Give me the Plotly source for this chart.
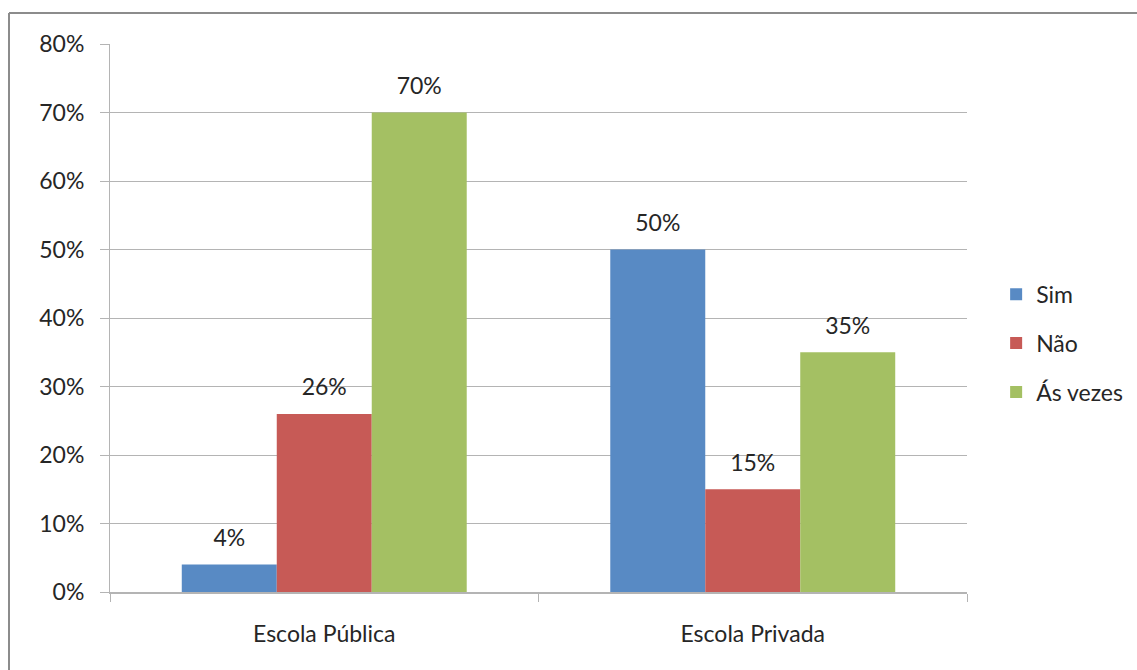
import plotly.graph_objects as go

categories = ["Escola Pública", "Escola Privada"]
series_names = ["Sim", "Não", "Ás vezes"]
sim = [0.04, 0.50]
nao = [0.26, 0.15]
as_vezes = [0.70, 0.35]
y_ticks = [0, 0.1, 0.2, 0.3, 0.4, 0.5, 0.6, 0.7, 0.8]

colors = ["#588AC4", "#C75A56", "#A4C063"]
font_family = "Lato, 'Open Sans', sans-serif"
text_color = "#262626"
axis_gray = "#B4B4B4"
gap = 0.335

fig = go.Figure()
for i, (name, vals) in enumerate(zip(series_names, [sim, nao, as_vezes])):
    fig.add_trace(go.Bar(
        x=categories,
        y=vals,
        name=name,
        legendgroup=name,
        offsetgroup=name,
        marker=dict(color=colors[i], line=dict(width=0)),
    ))
# value labels, grouped the same way as the bars
for i, (name, vals) in enumerate(zip(series_names, [sim, nao, as_vezes])):
    fig.add_trace(go.Scatter(
        x=categories,
        y=vals,
        offsetgroup=name,
        mode="markers+text",
        marker=dict(size=19, color="rgba(0,0,0,0)"),
        text=[f"{round(v * 100)}%" for v in vals],
        textposition="top center",
        textfont=dict(family=font_family, size=23, color=text_color),
        cliponaxis=False,
        showlegend=False,
        hoverinfo="skip",
    ))

fig.update_layout(
    width=1137,
    height=670,
    margin=dict(l=110, r=170, t=44, b=78, autoexpand=False),
    paper_bgcolor="white",
    plot_bgcolor="white",
    barmode="group",
    bargap=gap,
    bargroupgap=0,
    scattermode="group",
    scattergap=gap,
    font=dict(family=font_family, size=23, color=text_color),
    legend=dict(
        x=1.034, y=0.454, xanchor="left", yanchor="middle",
        traceorder="grouped",
        tracegroupgap=16,
        font=dict(size=23),
        itemwidth=30,
    ),
    showlegend=True,
)

fig.update_yaxes(
    range=[0, 0.8],
    tickvals=y_ticks,
    tickformat=".0%",
    showgrid=True,
    gridcolor=axis_gray,
    gridwidth=1,
    showline=True,
    linecolor=axis_gray,
    linewidth=1,
    ticks="outside",
    ticklen=9,
    tickcolor=axis_gray,
    zeroline=False,
    ticklabelstandoff=11,
)
fig.update_xaxes(
    showline=True,
    linecolor=axis_gray,
    linewidth=2,
    ticks="outside",
    tickson="boundaries",
    ticklen=8,
    tickcolor=axis_gray,
    ticklabelstandoff=20,
)

# outer chart frame (top and left edges visible)
fig.add_shape(type="line", xref="paper", yref="paper",
              x0=(9 - 110) / 857, x1=1.3, y0=1 + 31 / 548, y1=1 + 31 / 548,
              line=dict(color="#8C8C8C", width=2))
fig.add_shape(type="line", xref="paper", yref="paper",
              x0=(9 - 110) / 857, x1=(9 - 110) / 857, y0=-0.3, y1=1 + 31 / 548,
              line=dict(color="#8C8C8C", width=2))

fig.write_html("out.html")
